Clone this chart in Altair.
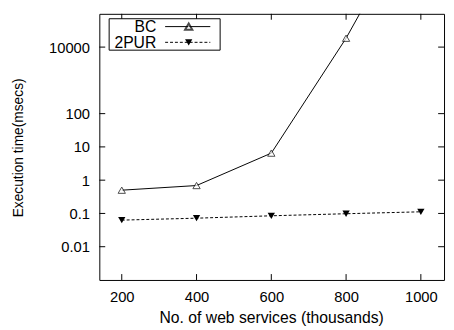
import altair as alt
import pandas as pd

services = [200, 400, 600, 800, 1000]
bc_ms = [0.5, 0.69, 6.5, 18500, 2.0e8]
pur_ms = [0.063, 0.072, 0.085, 0.098, 0.112]
y_ticks = [0.01, 0.1, 1, 10, 100, 10000]
x_ticks = [200, 400, 600, 800, 1000]
series = ["BC", "2PUR"]

W, H = 351, 271
FONT = "Liberation Sans"
xs = alt.Scale(domain=[140, 1062], nice=False, zero=False)
ys = alt.Scale(type="log", domain=[0.001, 100000], nice=False)

bc = pd.DataFrame({"n": services, "t": bc_ms})
pur = pd.DataFrame({"n": services, "t": pur_ms})

x_axis = alt.Axis(values=x_ticks, title="No. of web services (thousands)", ticks=False,
                  tickSize=0, labelPadding=10, domain=False, grid=False, format="d",
                  titleFontSize=16,
                  titleX=175, titleY=43, titleBaseline="alphabetic", titleAlign="center")
y_axis = alt.Axis(values=y_ticks, title="Execution time(msecs)", ticks=False, tickSize=0,
                  labelPadding=10, domain=False, grid=False,
                  labelExpr="datum.value >= 1 ? format(datum.value, 'd') : format(datum.value, '')",
                  titleFontSize=14,
                  titleX=-78, titleY=136, titleAngle=-90, titleBaseline="alphabetic", titleAlign="center")

bc_line = alt.Chart(bc).mark_line(color="black", strokeWidth=1, clip=True).encode(
    x=alt.X("n:Q", scale=xs, axis=x_axis),
    y=alt.Y("t:Q", scale=ys, axis=y_axis),
)
bc_pts = alt.Chart(bc).mark_point(shape="triangle-up", size=55, color="black", strokeWidth=1,
                                  filled=False, fill="white", clip=True).encode(
    x=alt.X("n:Q", scale=xs), y=alt.Y("t:Q", scale=ys))
pur_line = alt.Chart(pur).mark_line(color="black", strokeWidth=1, strokeDash=[3, 2], clip=True).encode(
    x=alt.X("n:Q", scale=xs), y=alt.Y("t:Q", scale=ys))
pur_pts = alt.Chart(pur).mark_point(shape="triangle-down", size=55, color="black", filled=True,
                                    opacity=1, clip=True).encode(
    x=alt.X("n:Q", scale=xs), y=alt.Y("t:Q", scale=ys))

ytk = pd.DataFrame({"v": y_ticks})
xtk = pd.DataFrame({"v": x_ticks})
tick_l = alt.Chart(ytk).mark_rule(color="black", strokeWidth=1).encode(
    y=alt.Y("v:Q", scale=ys), x=alt.value(0), x2=alt.value(6))
tick_r = alt.Chart(ytk).mark_rule(color="black", strokeWidth=1).encode(
    y=alt.Y("v:Q", scale=ys), x=alt.value(W - 6), x2=alt.value(W))
tick_b = alt.Chart(xtk).mark_rule(color="black", strokeWidth=1).encode(
    x=alt.X("v:Q", scale=xs), y=alt.value(H - 6), y2=alt.value(H))
tick_t = alt.Chart(xtk).mark_rule(color="black", strokeWidth=1).encode(
    x=alt.X("v:Q", scale=xs), y=alt.value(0), y2=alt.value(6))

# legend
leg_box = alt.Chart(pd.DataFrame({"a": [0]})).mark_rect(fill="white", stroke="black", strokeWidth=1).encode(
    x=alt.value(10), x2=alt.value(123), y=alt.value(5), y2=alt.value(37))
leg_txt = [
    alt.Chart(pd.DataFrame({"s": [s]})).mark_text(align="right", baseline="middle", font=FONT,
                                                  fontSize=16, color="black").encode(
        x=alt.value(58), y=alt.value(13.5 + 16 * i), text="s:N")
    for i, s in enumerate(series)
]
leg_l1 = alt.Chart(pd.DataFrame({"s": [series[0]]})).mark_rule(color="black", strokeWidth=1).encode(
    x=alt.value(67), x2=alt.value(113), y=alt.value(13))
leg_l2 = alt.Chart(pd.DataFrame({"s": [series[1]]})).mark_rule(color="black", strokeWidth=1, strokeDash=[3, 2]).encode(
    x=alt.value(67), x2=alt.value(113), y=alt.value(29))
leg_p1 = alt.Chart(pd.DataFrame({"s": [series[0]]})).mark_point(shape="triangle-up", size=55, color="black",
                                                              filled=False, fill="white").encode(
    x=alt.value(91), y=alt.value(13))
leg_p2 = alt.Chart(pd.DataFrame({"s": [series[1]]})).mark_point(shape="triangle-down", size=55, color="black",
                                                              filled=True, opacity=1).encode(
    x=alt.value(91), y=alt.value(29))

chart = alt.layer(
    bc_line, pur_line, bc_pts, pur_pts, tick_l, tick_r, tick_b, tick_t,
    leg_box, *leg_txt, leg_l1, leg_l2, leg_p1, leg_p2,
).properties(
    width=W, height=H,
    autosize=alt.AutoSizeParams(type="none"),
    padding={"left": 93, "top": 3, "right": 2, "bottom": 48},
).configure_view(stroke="black", strokeWidth=1).configure_axis(
    labelFont=FONT, labelFontSize=15, labelColor="black",
    titleFont=FONT, titleFontWeight="normal", titleColor="black",
)

chart.save("out.html", embed_options={"renderer": "svg", "actions": False})
